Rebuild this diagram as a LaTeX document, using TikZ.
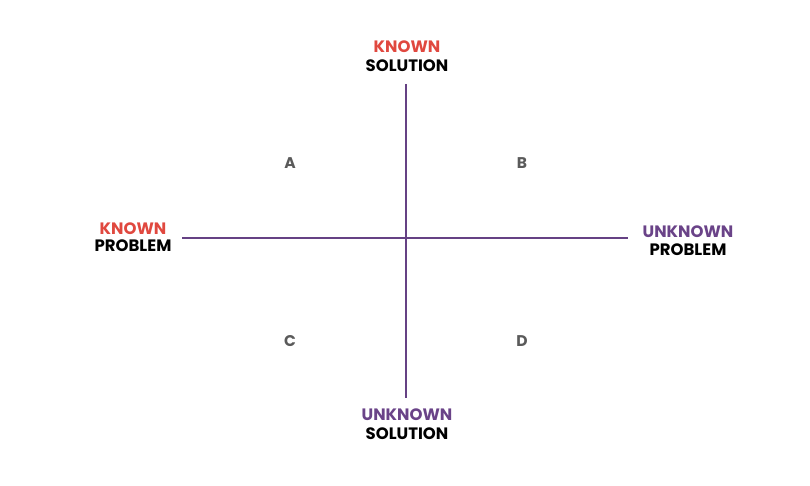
\documentclass[tikz,border=0pt]{standalone}
\usepackage{fontspec}
\setmainfont{Poppins}
\usepackage{tikz}
\usetikzlibrary{positioning}

\definecolor{knownred}{HTML}{E0483F}
\definecolor{unknownpurple}{HTML}{6A4388}
\definecolor{axispurple}{HTML}{654184}
\definecolor{lettergray}{HTML}{5A5A5A}

\begin{document}
\begin{tikzpicture}[
        x=1pt, y=-1pt,
        word/.style={inner sep=0pt, font=\fontsize{16.5}{18}\selectfont\bfseries},
        known/.style={word, text=knownred},
        unknown/.style={word, text=unknownpurple},
        plain/.style={word, text=black},
        quadrant/.style={inner sep=0pt, text=lettergray, font=\fontsize{15.5}{17}\selectfont\bfseries},
        axis/.style={axispurple, line width=1.8pt}
    ]
        % Frame
        \useasboundingbox (0,0) rectangle (810,486);

        % Axis end points
        \coordinate (top) at (406,84);
        \coordinate (bottom) at (406,398);
        \coordinate (left) at (182,238);
        \coordinate (right) at (628,238);

        % Axes
        \draw[axis] (top) -- (bottom);
        \draw[axis] (left) -- (right);

        % Solution labels
        \node[known] (ksol1) at (407,47) {KNOWN};
        \node[plain] (ksol2) at (407,66) {SOLUTION};
        \node[unknown] (usol1) at (407,415) {UNKNOWN};
        \node[plain] (usol2) at (407,434) {SOLUTION};

        % Problem labels
        \node[known] (kprob1) at (133,229) {KNOWN};
        \node[plain] (kprob2) at (133,246) {PROBLEM};
        \node[unknown] (uprob1) at (688,232) {UNKNOWN};
        \node[plain] (uprob2) at (688,250) {PROBLEM};

        % Quadrants
        \node[quadrant] (A) at (290,163) {A};
        \node[quadrant] (B) at (522,163) {B};
        \node[quadrant] (C) at (290,341) {C};
        \node[quadrant] (D) at (522,341) {D};
    \end{tikzpicture}
\end{document}
